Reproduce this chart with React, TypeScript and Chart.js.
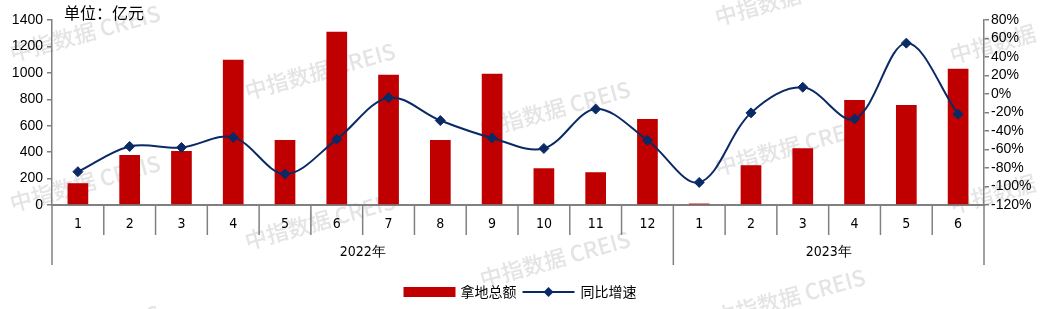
import React, { useEffect, useRef } from "react";
import { Chart, registerables } from "chart.js";

Chart.register(...registerables);

// ---------- data ----------
const months = ["1", "2", "3", "4", "5", "6", "7", "8", "9", "10", "11", "12", "1", "2", "3", "4", "5", "6"];
const years = ["2022年", "2023年"];
const yearSpans = [12, 6];
const landTotal = [165, 378, 408, 1100, 492, 1312, 985, 492, 993, 278, 248, 651, 11, 301, 430, 795, 757, 1031];
const yoyGrowth = [-84, -56.7, -57.8, -46.9, -86.5, -49, -4, -28.7, -47.6, -58.9, -16.3, -50, -95.6, -20.4, 7.3, -26.9, 55, -21.8];
const seriesNames = ["拿地总额", "同比增速"];
const unitLabel = "单位：亿元";
const watermarkText = "中指数据 CREIS";

const RED = "#C00000";
const NAVY = "#0A2A66";
const GREY = "#808080";
const NARROW = '"Liberation Sans Narrow", "DejaVu Sans Condensed", "Liberation Sans", sans-serif';
const SANS = '"Liberation Sans", Arial, sans-serif';
const CJK = '"Noto Sans CJK SC", sans-serif';

const decorPlugin = {
  id: "decor",
  beforeDraw(chart: any) {
    const ctx = chart.ctx;
    ctx.save();
    ctx.fillStyle = "#e4e4e4";
    ctx.font = `500 22px ${CJK}`;
    ctx.textAlign = "center";
    ctx.textBaseline = "middle";
    for (let i = 0; i < 5; i++) {
      const x = 85 + 235 * i;
      for (let k = -1; k < 3; k++) {
        const y = 33 + 38 * i + 150 * k;
        if (y < -30 || y > 340) continue;
        ctx.save();
        ctx.translate(x, y);
        ctx.rotate(-0.27);
        ctx.fillText(watermarkText, 0, 0);
        ctx.restore();
      }
    }
    ctx.restore();
  },
  afterDraw(chart: any) {
    const ctx = chart.ctx;
    const xs = chart.scales.x;
    const n = months.length;
    const step = (xs.right - xs.left) / n;
    const base = chart.chartArea.bottom;
    ctx.save();
    // separators
    ctx.strokeStyle = GREY;
    ctx.lineWidth = 1.5;
    const yearBounds = new Set<number>([0]);
    let acc = 0;
    yearSpans.forEach((s) => {
      acc += s;
      yearBounds.add(acc);
    });
    for (let i = 0; i <= n; i++) {
      const x = xs.left + i * step;
      ctx.beginPath();
      ctx.moveTo(x, base);
      ctx.lineTo(x, yearBounds.has(i) ? base + 60 : base + 30);
      ctx.stroke();
    }
    // year labels
    ctx.fillStyle = "#000";
    ctx.font = `14px ${NARROW}`;
    ctx.textAlign = "center";
    ctx.textBaseline = "middle";
    let start = 0;
    years.forEach((y, idx) => {
      const cx = xs.left + (start + yearSpans[idx] / 2) * step;
      ctx.fillText(y, cx, base + 47);
      start += yearSpans[idx];
    });
    // unit title
    ctx.textAlign = "left";
    ctx.font = `16px ${CJK}`;
    ctx.fillText(unitLabel, 64, 13);
    // legend
    ctx.font = `14px ${CJK}`;
    const w1 = ctx.measureText(seriesNames[0]).width;
    const w2 = ctx.measureText(seriesNames[1]).width;
    const total = 52 + 5 + w1 + 6 + 52 + 6 + w2;
    let lx = chart.width / 2 - total / 2;
    const ly = 292;
    ctx.fillStyle = RED;
    ctx.fillRect(lx, ly - 5, 52, 10);
    lx += 57;
    ctx.fillStyle = "#000";
    ctx.fillText(seriesNames[0], lx, ly);
    lx += w1 + 6;
    ctx.strokeStyle = NAVY;
    ctx.lineWidth = 2;
    ctx.beginPath();
    ctx.moveTo(lx, ly);
    ctx.lineTo(lx + 52, ly);
    ctx.stroke();
    const dx = lx + 26;
    ctx.fillStyle = NAVY;
    ctx.beginPath();
    ctx.moveTo(dx, ly - 5);
    ctx.lineTo(dx + 5, ly);
    ctx.lineTo(dx, ly + 5);
    ctx.lineTo(dx - 5, ly);
    ctx.closePath();
    ctx.fill();
    lx += 58;
    ctx.fillStyle = "#000";
    ctx.fillText(seriesNames[1], lx, ly);
    ctx.restore();
  },
};

export default function App() {
  const ref = useRef<HTMLCanvasElement>(null);
  useEffect(() => {
    const chart = new Chart(ref.current as HTMLCanvasElement, {
      type: "bar",
      data: {
        labels: months,
        datasets: [
          {
            type: "line",
            label: seriesNames[1],
            data: yoyGrowth,
            yAxisID: "y1",
            borderColor: NAVY,
            borderWidth: 2,
            pointStyle: "rectRot",
            pointRadius: 5,
            pointBackgroundColor: NAVY,
            pointBorderColor: NAVY,
            pointBorderWidth: 1,
            tension: 0.35,
            order: 1,
          } as any,
          {
            type: "bar",
            label: seriesNames[0],
            data: landTotal,
            yAxisID: "y",
            backgroundColor: RED,
            barPercentage: 0.4,
            categoryPercentage: 1,
            order: 2,
          } as any,
        ],
      },
      options: {
        responsive: false,
        animation: false,
        devicePixelRatio: 1,
        layout: { padding: { top: 20, left: 0, right: 0, bottom: 0 } },
        plugins: { legend: { display: false }, tooltip: { enabled: false } },
        scales: {
          x: {
            type: "category",
            offset: true,
            grid: { display: false, drawTicks: false },
            border: { display: true, color: GREY, width: 2 },
            ticks: {
              autoSkip: false,
              maxRotation: 0,
              padding: 11,
              color: "#000",
              font: { family: NARROW, size: 14 },
            },
            afterFit: (s: any) => {
              s.height = 104;
            },
          },
          y: {
            position: "left",
            min: 0,
            max: 1400,
            ticks: {
              stepSize: 200,
              autoSkip: false,
              padding: 4,
              color: "#000",
              font: { family: SANS, size: 14 },
              callback: (v: any) => String(v),
            },
            grid: { drawOnChartArea: false, tickLength: 5, color: GREY, lineWidth: 1.5 },
            border: { color: GREY, width: 1.5 },
            afterFit: (s: any) => {
              s.width = 52;
            },
          },
          y1: {
            position: "right",
            min: -120,
            max: 80,
            ticks: {
              stepSize: 20,
              autoSkip: false,
              padding: 2,
              color: "#000",
              font: { family: SANS, size: 14 },
              callback: (v: any) => v + "%",
            },
            grid: { drawOnChartArea: false, tickLength: 5, color: GREY, lineWidth: 1.5 },
            border: { color: GREY, width: 1.5 },
            afterFit: (s: any) => {
              s.width = 56;
            },
          },
        },
      } as any,
      plugins: [decorPlugin],
    });
    return () => chart.destroy();
  }, []);
  return (
    <div style={{ position: "absolute", left: 0, top: 0, width: 1040, height: 309, background: "#fff" }}>
      <canvas ref={ref} width={1040} height={309} style={{ display: "block" }} />
    </div>
  );
}
